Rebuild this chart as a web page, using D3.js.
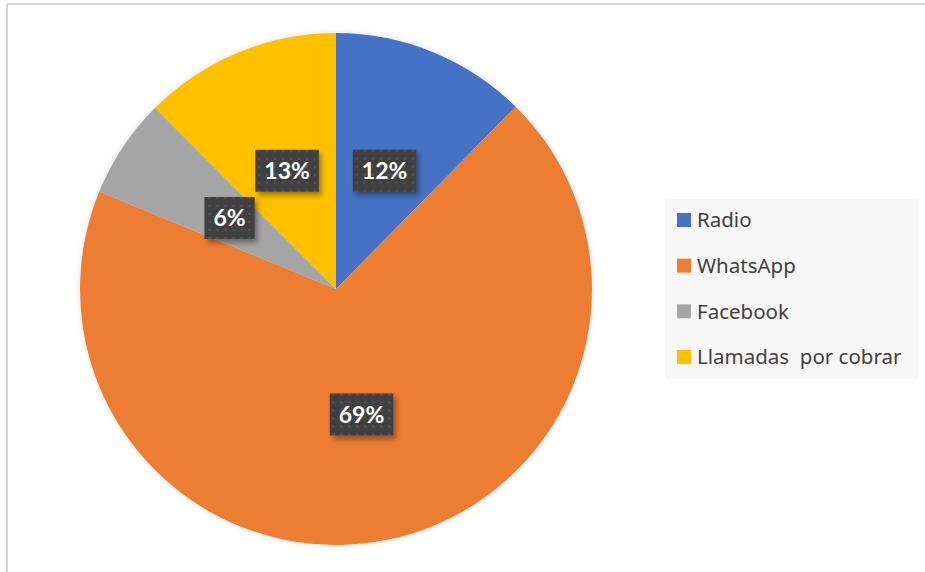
<!DOCTYPE html>
<html lang="es">
<head>
  <meta charset="UTF-8">
  <title>Medios de comunicación</title>
  <script src="https://d3js.org/d3.v7.min.js"></script>
  <style>
    body { margin: 0; background: #fff; font-family: 'Lato', 'Noto Sans', sans-serif; }
    .legend text { font-size: 20.5px; fill: #404040; font-family: 'Noto Sans', sans-serif; }
    .lbl text { font-size: 23px; font-weight: bold; fill: #fff; }
  </style>
</head>
<body>
  <svg width="925" height="572"></svg>
  <script>
    const categories = ["Radio", "WhatsApp", "Facebook", "Llamadas  por cobrar"];
    // shares; labels show them rounded
    const values = [12.4, 68.9, 6.3, 12.5];
    const colors = ["#4472C4", "#ED7D31", "#A5A5A5", "#FFC000"];

    const data = categories.map((c, i) => ({ name: c, value: values[i], color: colors[i] }));

    const svg = d3.select("svg");
    const defs = svg.append("defs");

    // little dot pattern on the label boxes
    const pat = defs.append("pattern")
      .attr("id", "dots")
      .attr("width", 8).attr("height", 8)
      .attr("patternUnits", "userSpaceOnUse");
    pat.append("rect").attr("width", 8).attr("height", 8).attr("fill", "#404040");
    pat.append("circle").attr("cx", 4).attr("cy", 4).attr("r", 1.3).attr("fill", "#555");

    const sh = defs.append("filter").attr("id", "shadow")
      .attr("x", "-30%").attr("y", "-30%").attr("width", "160%").attr("height", "160%");
    sh.append("feDropShadow").attr("dx", 3).attr("dy", 4).attr("stdDeviation", 2.5)
      .attr("flood-color", "#000").attr("flood-opacity", 0.35);

    const pieSh = defs.append("filter").attr("id", "pieshadow")
      .attr("x", "-10%").attr("y", "-10%").attr("width", "120%").attr("height", "120%");
    pieSh.append("feDropShadow").attr("dx", 0).attr("dy", 0).attr("stdDeviation", 3)
      .attr("flood-color", "#000").attr("flood-opacity", 0.12);

    // chart frame (only the top and left edges show)
    svg.append("line").attr("x1", 7).attr("y1", 4).attr("x2", 925).attr("y2", 4)
      .attr("stroke", "#c8c8c8").attr("stroke-width", 1.5);
    svg.append("line").attr("x1", 7).attr("y1", 4).attr("x2", 7).attr("y2", 572)
      .attr("stroke", "#c8c8c8").attr("stroke-width", 1.5);

    const cx = 336, cy = 289, R = 256;

    const pie = d3.pie().sort(null).value(d => d.value);
    const arc = d3.arc().innerRadius(0).outerRadius(R);
    const arcs = pie(data);

    const g = svg.append("g").attr("transform", `translate(${cx},${cy})`);

    g.append("g").attr("filter", "url(#pieshadow)")
      .selectAll("path")
      .data(arcs)
      .join("path")
      .attr("d", arc)
      .attr("fill", d => d.data.color);

    const lbls = g.selectAll("g.lbl")
      .data(arcs)
      .join("g")
      .attr("class", "lbl")
      .attr("transform", d => `translate(${arc.centroid(d)})`);

    lbls.each(function(d) {
      const sel = d3.select(this);
      const t = sel.append("text")
        .attr("text-anchor", "middle")
        .attr("dy", "0.36em")
        .text(Math.round(d.data.value) + "%");
      const w = t.node().getComputedTextLength() + 18;
      sel.insert("rect", "text")
        .attr("x", -w / 2).attr("y", -21)
        .attr("width", w).attr("height", 42)
        .attr("fill", "url(#dots)")
        .attr("filter", "url(#shadow)");
    });

    // legend
    const lg = svg.append("g").attr("class", "legend");
    lg.append("rect")
      .attr("x", 665).attr("y", 199).attr("width", 253).attr("height", 180)
      .attr("fill", "#f7f7f7");

    const y = d3.scalePoint().domain(categories).range([220, 357]);
    const items = lg.selectAll("g.item")
      .data(data)
      .join("g")
      .attr("class", "item")
      .attr("transform", d => `translate(677,${y(d.name)})`);
    items.append("rect")
      .attr("x", 0).attr("y", -7).attr("width", 14).attr("height", 14)
      .attr("fill", d => d.color);
    items.append("text")
      .attr("x", 20).attr("dy", "0.35em")
      .style("white-space", "pre")
      .attr("xml:space", "preserve")
      .text(d => d.name);
  </script>
</body>
</html>
